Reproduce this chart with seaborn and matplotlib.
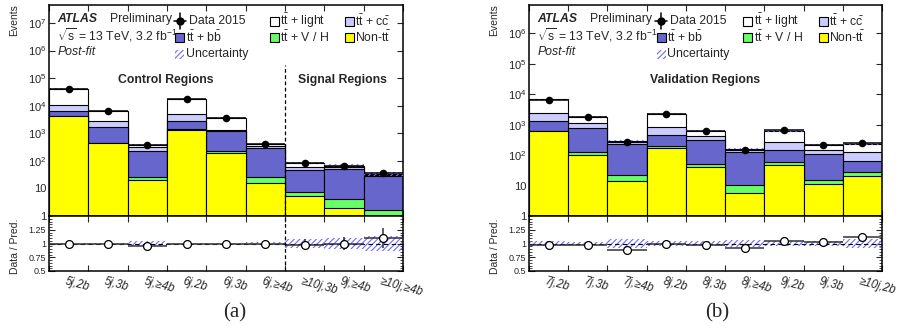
import numpy as np
import pandas as pd
import matplotlib
matplotlib.use("Agg")
import matplotlib.pyplot as plt
import seaborn as sns
from matplotlib.patches import Rectangle
from matplotlib.lines import Line2D
import matplotlib.ticker as mticker

sns.set_style("ticks")
plt.rcParams['font.family'] = ['Liberation Sans', 'DejaVu Sans']
plt.rcParams['mathtext.fontset'] = 'custom'
plt.rcParams['mathtext.rm'] = 'Liberation Sans'
plt.rcParams['mathtext.it'] = 'Liberation Sans:italic'
plt.rcParams['mathtext.bf'] = 'Liberation Sans:bold'
plt.rcParams['mathtext.sf'] = 'Liberation Sans'
plt.rcParams['hatch.linewidth'] = 0.8

# ---------------- data: panel (a) ----------------
labels_a = ["5j,2b", "5j,3b", "5j,≥4b", "6j,2b", "6j,3b", "6j,≥4b",
            "≥10j,3b", "9j,≥4b", "≥10j,≥4b"]
nontt_a = [4300, 445, 20, 1360, 200, 16, 5.5, 1.9, 0.6]
ttvh_a = [50, 15, 7, 40, 20, 11, 1.9, 2.2, 1.1]
ttbb_a = [2100, 1240, 209, 1400, 960, 275, 39, 48, 26]
ttcc_a = [3700, 1100, 74, 2200, 180, 44, 15, 8, 2.3]
ttlight_a = [31500, 3500, 80, 12500, 2340, 64, 25, 7, 4]
data_a = [41500, 6300, 375, 17500, 3700, 410, 85, 67, 37]
ratio_a = [1.0, 1.0, 0.96, 1.0, 1.0, 1.0, 0.98, 1.0, 1.10]
unc_a = [0.01, 0.01, 0.04, 0.01, 0.01, 0.03, 0.08, 0.10, 0.14]

# ---------------- data: panel (b) ----------------
labels_b = ["7j,2b", "7j,3b", "7j,≥4b", "8j,2b", "8j,3b", "8j,≥4b",
            "9j,2b", "9j,3b", "≥10j,2b"]
nontt_b = [610, 100, 14, 173, 41, 5.6, 49, 11, 21]
ttvh_b = [20, 27, 9, 22, 12, 4.9, 11, 4.7, 7]
ttbb_b = [670, 623, 210, 280, 257, 116.5, 85, 89, 36]
ttcc_b = [1040, 350, 27, 375, 120, 18, 115, 40, 58]
ttlight_b = [4460, 700, 32, 1450, 210, 13, 365, 71, 103]
data_b = [6600, 1750, 260, 2300, 620, 145, 650, 220, 250]
ratio_b = [0.97, 0.97, 0.89, 1.0, 0.97, 0.92, 1.04, 1.02, 1.11]
unc_b = [0.04, 0.03, 0.08, 0.04, 0.04, 0.07, 0.05, 0.04, 0.08]

# colours (bottom -> top of stack)
C_NONTT = "#ffff00"
C_VH = "#66ff66"
C_BB = "#6666cc"
C_CC = "#ccccff"
C_LIGHT = "#ffffff"
C_HATCH = "#6b6bff"

TT = r"$\mathrm{t\bar{t}}$"

W, H = 898, 331
fig = plt.figure(figsize=(W / 100, H / 100), dpi=100)


def fx(px):
    return px / W


def fy(py):
    return 1 - py / H


def make_panel(x0, x1, comps, data, ratio, unc, labels, ymax_log, tag,
               region_texts, leg_x, divider=None):
    y_top, y_mid, y_bot = 5, 216, 271
    axm = fig.add_axes([fx(x0), fy(y_mid), fx(x1 - x0), (y_mid - y_top) / H])
    axr = fig.add_axes([fx(x0), fy(y_bot), fx(x1 - x0), (y_bot - y_mid) / H])
    n = len(labels)
    centers = np.arange(n) + 0.5
    edges = np.arange(n + 1)

    # stacked histogram: draw cumulative totals from top to bottom
    colors = [C_NONTT, C_VH, C_BB, C_CC, C_LIGHT]
    stack = np.cumsum(np.array(comps, dtype=float), axis=0)
    for k in range(len(comps) - 1, -1, -1):
        df = pd.DataFrame({"x": centers, "w": stack[k]})
        sns.histplot(data=df, x="x", weights="w", binwidth=1,
                     binrange=(0, n), element="bars",
                     color=colors[k], edgecolor="black", linewidth=0.8,
                     alpha=1, ax=axm)
    total = stack[-1]
    unc_arr = np.array(unc)
    axm.bar(centers, 2 * unc_arr * total, bottom=total * (1 - unc_arr),
            width=1.0, facecolor="none", edgecolor=C_HATCH, linewidth=0,
            hatch="//////", zorder=3)

    # data points
    data_arr = np.array(data, dtype=float)
    axm.errorbar(centers, data_arr, xerr=0.5, yerr=np.sqrt(data_arr),
                 fmt="none", ecolor="black", elinewidth=1.1, zorder=5)
    sns.scatterplot(x=centers, y=data_arr, color="black", s=30,
                    edgecolor="black", linewidth=0, zorder=6, ax=axm,
                    legend=False)

    axm.set_yscale("log")
    axm.set_xlim(0, n)
    axm.set_ylim(1, 10 ** ymax_log)
    axm.set_xlabel("")
    axm.set_ylabel("")
    dec = list(range(0, int(np.floor(ymax_log)) + 1))
    axm.yaxis.set_major_locator(mticker.FixedLocator([10.0 ** d for d in dec]))
    axm.yaxis.set_minor_locator(mticker.NullLocator())

    def fmt(v, pos):
        d = int(round(np.log10(v)))
        if d == 0:
            return "1"
        if d == 1:
            return "10"
        return r"$10^{%d}$" % d
    axm.yaxis.set_major_formatter(mticker.FuncFormatter(fmt))
    axm.set_xticks(edges)
    axm.set_xticklabels([])
    axm.tick_params(axis="both", direction="in", top=True, right=True,
                    length=4, width=0.8, labelsize=8, pad=2)

    # ratio panel
    axr.bar(centers, 2 * unc_arr, bottom=1 - unc_arr, width=1.0,
            facecolor="none", edgecolor=C_HATCH, linewidth=0,
            hatch="//////", zorder=1)
    axr.axhline(1, color="black", lw=0.8, ls=(0, (4, 3)), zorder=2)
    rerr = np.sqrt(data_arr) / total
    axr.errorbar(centers, ratio, xerr=0.5, yerr=rerr, fmt="none",
                 ecolor="#333333", elinewidth=1.1, zorder=3)
    sns.scatterplot(x=centers, y=ratio, s=32, facecolor="white",
                    edgecolor="black", linewidth=0.9, zorder=4, ax=axr,
                    legend=False)
    axr.set_xlim(0, n)
    axr.set_ylim(0.5, 1.5)
    axr.set_yticks([0.5, 0.75, 1.0, 1.25])
    axr.set_yticklabels(["0.5", "0.75", "1", "1.25"])
    axr.yaxis.set_minor_locator(mticker.MultipleLocator(0.05))
    axr.set_xticks(edges)
    axr.set_xticklabels([])
    axr.tick_params(axis="both", which="major", direction="in", top=True,
                    right=True, length=4, width=0.8, labelsize=6.5, pad=2)
    axr.tick_params(axis="y", which="minor", direction="in", left=True,
                    right=True, length=2, width=0.6)
    axr.set_xlabel("")
    axr.set_ylabel("")
    for ax in (axm, axr):
        for s in ax.spines.values():
            s.set_linewidth(1.1)
            s.set_color("black")

    for c, lab in zip(centers, labels):
        axr.text(c - 0.05, -0.08, lab, transform=axr.get_xaxis_transform(),
                 rotation=-15, rotation_mode="anchor", ha="left", va="top",
                 fontsize=8.3, style="italic")

    if divider is not None:
        axm.vlines(divider, 1, 3e5, colors="black", linestyles=(0, (3, 2)),
                   lw=0.9, zorder=7)
        axr.axvline(divider, color="black", ls=(0, (3, 2)), lw=0.9, zorder=7)

    # texts
    FS = 8.8
    axm.text(0.024, 0.934, "ATLAS", transform=axm.transAxes, fontsize=FS,
             fontweight="bold", style="italic", va="center")
    axm.text(0.172, 0.934, "Preliminary", transform=axm.transAxes,
             fontsize=FS, va="center")
    axm.text(0.024, 0.855, r"$\sqrt{\mathrm{s}}$ = 13 TeV, 3.2 fb$^{-1}$",
             transform=axm.transAxes, fontsize=FS, va="center")
    axm.text(0.024, 0.776, "Post-fit", transform=axm.transAxes, fontsize=FS,
             style="italic", va="center")
    for (tx, txt) in region_texts:
        axm.text(tx, 0.645, txt, transform=axm.transAxes, fontsize=FS,
                 fontweight="bold", ha="center", va="center")

    # legend (drawn manually)
    lx1, lx2, lx3 = leg_x
    rows = [0.924, 0.845, 0.767]
    bw = 9 / (x1 - x0)
    bh = 9 / (y_mid - y_top)
    # Data
    axm.add_line(Line2D([lx1 - 0.018, lx1 + 0.018], [rows[0], rows[0]],
                        color="black", lw=1.1, transform=axm.transAxes))
    axm.add_line(Line2D([lx1, lx1], [rows[0] - 0.04, rows[0] + 0.04],
                        color="black", lw=1.1, transform=axm.transAxes))
    axm.add_line(Line2D([lx1], [rows[0]], marker="o", ms=5, color="black",
                        transform=axm.transAxes))
    axm.text(lx1 + 0.026, rows[0], "Data 2015", transform=axm.transAxes,
             fontsize=FS, va="center")
    entries = [
        (lx1, rows[1], C_BB, TT + r" + $\mathrm{b\bar{b}}$", None),
        (lx1, rows[2], "none", "Uncertainty", "hatch"),
        (lx2, rows[0], C_LIGHT, TT + " + light", None),
        (lx2, rows[1], C_VH, TT + " + V / H", None),
        (lx3, rows[0], C_CC, TT + r" + $\mathrm{c\bar{c}}$", None),
        (lx3, rows[1], C_NONTT, "Non-" + TT, None),
    ]
    for (bx, by, col, txt, kind) in entries:
        if kind == "hatch":
            r = Rectangle((bx - bw / 2, by - bh / 2), bw, bh,
                          transform=axm.transAxes, facecolor="none",
                          edgecolor=C_HATCH, linewidth=0, hatch="//////")
        else:
            r = Rectangle((bx - bw / 2, by - bh / 2), bw, bh,
                          transform=axm.transAxes, facecolor=col,
                          edgecolor="black", linewidth=0.8)
        axm.add_patch(r)
        axm.text(bx + bw / 2 + 0.004, by, txt, transform=axm.transAxes,
                 fontsize=FS, va="center")

    # axis titles
    fig.text(fx(x0 - 35), fy(4), "Events", rotation=90, ha="center",
             va="top", fontsize=7.5)
    fig.text(fx(x0 - 34), fy(246), "Data / Pred.", rotation=90, ha="center",
             va="center", fontsize=7.5)
    fig.text(fx(tag[1]), fy(313), tag[0],
             ha="center", va="center", fontsize=15, family="Liberation Serif")
    return axm, axr


make_panel(49, 403, [nontt_a, ttvh_a, ttbb_a, ttcc_a, ttlight_a], data_a,
           ratio_a, unc_a, labels_a, 7.65, ("(a)", 235),
           [(0.33, "Control Regions"), (0.83, "Signal Regions")],
           (0.37, 0.636, 0.848), divider=6)
make_panel(529, 882, [nontt_b, ttvh_b, ttbb_b, ttcc_b, ttlight_b], data_b,
           ratio_b, unc_b, labels_b, 6.93, ("(b)", 717),
           [(0.499, "Validation Regions")],
           (0.374, 0.62, 0.833))

fig.savefig("out.png", dpi=100)
